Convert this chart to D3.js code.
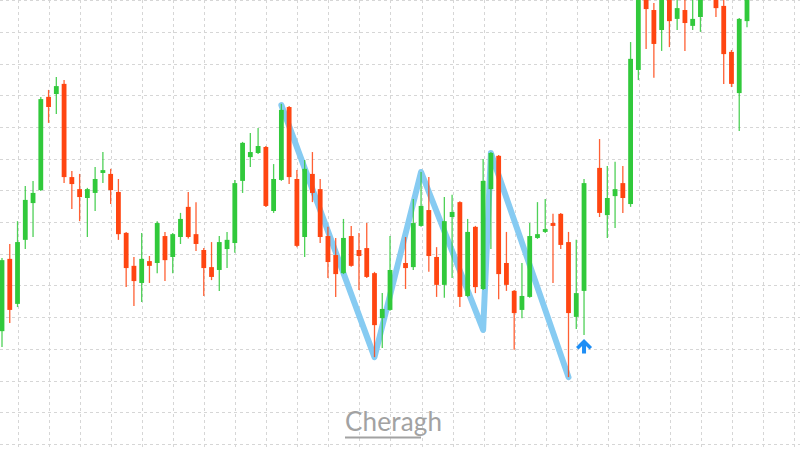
<!DOCTYPE html>
<html>
<head>
<meta charset="utf-8">
<script src="https://cdn.jsdelivr.net/npm/d3@7/dist/d3.min.js"></script>
<style>
  html, body { margin: 0; padding: 0; background: #ffffff; }
  svg { display: block; }
</style>
</head>
<body>
<svg id="chart" width="800" height="450"></svg>
<script>
// ---- data (price units; null = no candle) ----
const openP = [35.6,58.4,44.2,64.4,76.0,80.1,109.5,110.4,113.6,84.2,80.4,77.6,79.2,85.5,85.2,79.5,66.6,56.2,50.8,57.7,
  57.1,65.6,59.0,65.3,74.8,66.2,61.2,55.8,54.9,61.5,63.4,83.0,90.5,91.8,93.7,73.5,83.3,106.3,83.6,65.3,
  85.2,80.4,65.6,59.6,53.9,65.6,61.2,61.8,53.9,39.7,42.3,null,57.1,55.8,68.8,73.8,59.0,50.2,71.6,76.3,
  46.7,68.5,48.9,80.4,90.9,57.1,48.3,42.3,46.4,65.0,66.9,69.7,72.6,63.7,40.1,48.3,null,87.1,72.2,78.2,
  82.3,75.7,118.0,144.7,136.9,130.6,143.8,134.1,136.9,131.9,134.7,null,143.2,138.2,123.7,110.7,133.4];
const highP = [58.7,63.1,70.3,81.4,83.0,109.5,111.7,115.8,114.8,86.1,85.2,80.8,87.4,92.1,86.8,83.6,66.9,59.0,66.6,59.3,
  70.3,66.9,66.6,72.9,79.5,76.3,61.8,63.7,65.6,66.9,83.3,95.3,98.1,99.7,94.0,88.3,107.3,106.6,86.4,89.6,
  92.1,83.6,68.5,65.0,71.0,68.8,66.6,69.7,54.3,47.6,65.6,null,65.3,77.3,85.8,84.2,62.1,77.9,78.6,76.6,
  71.0,68.8,89.9,92.1,91.2,66.9,48.6,57.1,69.7,76.3,77.3,72.6,72.9,66.9,64.4,83.6,null,96.2,87.7,89.0,
  87.7,126.8,149.5,148.0,139.1,146.4,146.4,141.6,141.0,141.0,146.4,null,144.7,141.0,124.3,134.4,146.4];
const lowP = [30.6,38.2,43.2,61.5,65.3,79.8,101.3,104.1,82.3,74.1,70.3,65.3,73.5,82.3,75.7,64.4,49.5,43.5,44.8,50.8,
  53.9,51.4,53.9,63.1,64.8,60.9,46.7,51.7,48.3,55.5,60.3,79.2,87.4,91.5,74.8,72.9,83.0,82.0,62.1,59.0,
  76.3,63.4,52.4,46.4,53.6,55.9,48.6,52.4,27.4,30.3,42.0,null,48.9,54.9,68.5,54.3,46.4,46.1,52.4,43.2,
  46.4,47.6,48.6,61.5,45.7,48.3,29.7,39.7,46.1,64.7,66.6,50.8,61.5,21.1,36.3,34.4,null,71.6,65.0,68.1,
  72.9,74.8,114.8,124.6,115.5,124.0,125.2,130.6,124.0,130.6,130.0,null,134.7,113.6,112.6,98.7,131.5];
const closeP = [58.0,42.3,63.7,77.0,79.2,108.8,106.3,112.9,84.2,82.0,77.9,80.4,83.6,86.4,80.1,66.2,55.5,51.4,58.4,56.2,
  69.7,58.0,66.2,71.0,65.3,63.1,55.5,52.7,63.7,64.4,82.3,95.0,92.1,94.0,75.1,83.6,105.4,84.2,62.5,86.8,
  79.2,65.3,57.4,53.6,65.0,56.2,59.3,52.7,37.5,42.6,54.9,null,55.5,69.7,75.1,59.3,50.2,70.3,73.2,46.4,
  66.9,49.5,83.0,91.8,53.6,50.2,41.3,46.7,65.6,66.2,67.8,68.8,62.8,41.3,47.6,82.3,null,72.9,77.6,80.4,
  77.6,121.5,146.4,137.2,126.2,143.2,133.4,137.5,132.8,134.1,143.2,null,137.5,123.0,113.6,134.1,143.2];

// zigzag pattern pivots (candle index, price)
const zigIndex = [36, 48, 54, 62, 63, 73];
const zigPrice = [106.9, 27.4, 85.8, 36.0, 91.8, 21.1];

// buy signal arrow
const signalIndex = [75];
const signalPrice = [33.1];

// grid levels
const priceGrid = d3.range(0, 141, 10);
const timeGrid = d3.range(-2, 103, 4);

const watermark = "Cheragh";

// ---- drawing ----
const W = 800, H = 450;
const svg = d3.select("#chart");
svg.append("rect").attr("width", W).attr("height", H).attr("fill", "#ffffff");

const x = d3.scaleLinear().domain([0, 96]).range([2, 747]);
const y = d3.scaleLinear().domain([0, 140]).range([444, 0.2]);

const candles = openP.map((o, i) => ({ i, o, h: highP[i], l: lowP[i], c: closeP[i] }))
  .filter(d => d.o !== null);

const GREEN = "#31c93b", RED = "#ff4511";
const bodyW = 4.8;

// grid
const g = svg.append("g");
g.selectAll("line.h").data(priceGrid).join("line")
  .attr("x1", 0).attr("x2", W)
  .attr("y1", d => Math.round(y(d)) + 0.5).attr("y2", d => Math.round(y(d)) + 0.5)
  .attr("stroke", "#d6d6d6").attr("stroke-width", 1).attr("stroke-dasharray", "3,3");
g.selectAll("line.v").data(timeGrid).join("line")
  .attr("y1", 0).attr("y2", H)
  .attr("x1", d => Math.round(x(d + 0.06)) + 0.5).attr("x2", d => Math.round(x(d + 0.06)) + 0.5)
  .attr("stroke", "#d6d6d6").attr("stroke-width", 1).attr("stroke-dasharray", "3,3");

// zigzag (under candles)
const zig = zigIndex.map((d, k) => [d, zigPrice[k]]);
svg.append("path")
  .datum(zig)
  .attr("d", d3.line().x(d => x(d[0])).y(d => y(d[1])))
  .attr("fill", "none")
  .attr("stroke", "#86cbf2")
  .attr("stroke-width", 6)
  .attr("stroke-linejoin", "round")
  .attr("stroke-linecap", "round");

// candles
const cg = svg.append("g").selectAll("g").data(candles).join("g");
cg.append("line")
  .attr("x1", d => x(d.i)).attr("x2", d => x(d.i))
  .attr("y1", d => y(d.h)).attr("y2", d => y(d.l))
  .attr("stroke", d => d.c >= d.o ? GREEN : RED)
  .attr("stroke-width", 1.3)
  .attr("opacity", 0.85);
cg.append("rect")
  .attr("x", d => x(d.i) - bodyW / 2)
  .attr("width", bodyW)
  .attr("y", d => y(Math.max(d.o, d.c)))
  .attr("height", d => Math.max(1.5, Math.abs(y(d.o) - y(d.c))))
  .attr("fill", d => d.c >= d.o ? GREEN : RED);

// signal arrow
const ag = svg.append("g").selectAll("g").data(signalIndex).join("g")
  .attr("transform", (d, k) => `translate(${x(d)},${y(signalPrice[k])})`);
ag.append("path")
  .attr("d", "M0,0 L8,8 L5.5,10.5 L2,7 L2,14.5 L-2,14.5 L-2,7 L-5.5,10.5 L-8,8 Z")
  .attr("fill", "#1e8ef5");

// watermark
svg.append("text")
  .attr("x", 345).attr("y", 431)
  .attr("font-family", "Lato, 'Open Sans', sans-serif")
  .attr("font-size", 26)
  .attr("fill", "#a2a2a2")
  .attr("letter-spacing", 0.2)
  .text(watermark);
svg.append("line")
  .attr("x1", 345).attr("x2", 421).attr("y1", 437.5).attr("y2", 437.5)
  .attr("stroke", "#a2a2a2").attr("stroke-width", 2);
</script>
</body>
</html>
